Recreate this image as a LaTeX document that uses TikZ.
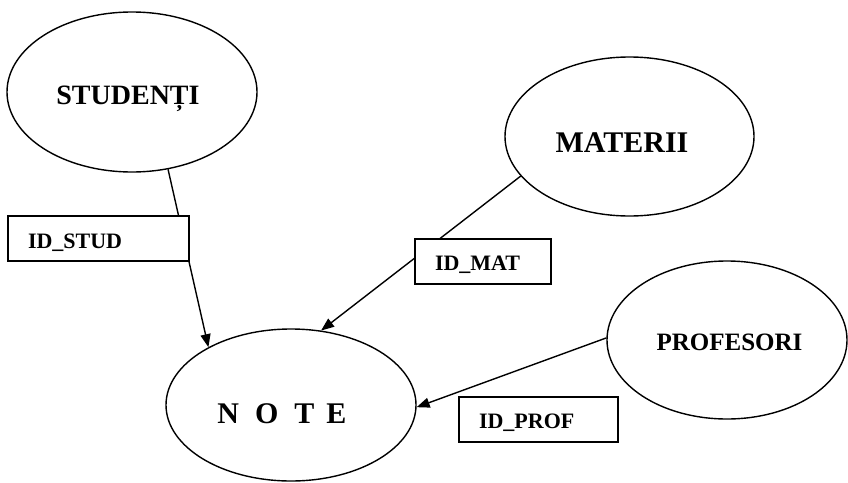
\documentclass[tikz,border=0pt]{standalone}
\usepackage{fontspec}
\setmainfont{Liberation Serif}
\usetikzlibrary{shapes.geometric,arrows.meta}
\newcommand{\lowertext}[2]{\raisebox{-#1}[0pt][0pt]{#2}}
\begin{document}
\begin{tikzpicture}[x=1pt,y=-1pt,
  ent/.style={draw,ellipse,line width=1.4pt,inner sep=0pt,font=\bfseries},
  keybox/.style={draw,fill=white,line width=1.4pt,minimum height=45pt,inner xsep=20pt,inner ysep=0pt,align=left,font=\fontsize{22}{24}\selectfont\bfseries},
  arr/.style={line width=1.4pt,-{Triangle[length=13pt,width=10pt]}}]
\useasboundingbox (0,0) rectangle (848,482);
\node[ent,minimum width=250pt,minimum height=160pt,font=\fontsize{28}{30}\selectfont\bfseries] (stud) at (132,92) {\hspace{-8pt}\lowertext{12pt}{STUDENȚI}};
\node[ent,minimum width=249pt,minimum height=159pt,font=\fontsize{30}{32}\selectfont\bfseries] (mat) at (629.5,136.5) {\hspace{-15pt}\lowertext{15.5pt}{MATERII}};
\node[ent,minimum width=240pt,minimum height=158pt,font=\fontsize{25}{27}\selectfont\bfseries] (prof) at (727,340) {\hspace{5pt}\lowertext{10pt}{PROFESORI}};
\node[ent,minimum width=250pt,minimum height=152pt,font=\fontsize{30}{32}\selectfont\bfseries] (note) at (291,405) {\hspace{-18pt}\lowertext{18pt}{N\hspace{16pt}O\hspace{16pt}T\hspace{12pt}E}};
\draw[arr] (stud.-65.6) -- (note.145.8);
\draw[arr] (mat.-160.3) -- (note.68.3);
\draw[arr] (prof.179.5) -- (note.-1.4);
\node[keybox,text width=141pt] (idstud) at (98.5,238.5) {\lowertext{9.5pt}{ID\_STUD}};
\node[keybox,text width=96pt] (idmat) at (483,261.5) {\lowertext{8.5pt}{ID\_MAT}};
\node[keybox,text width=119pt] (idprof) at (538.5,419.5) {\lowertext{9pt}{ID\_PROF}};
\end{tikzpicture}
\end{document}
